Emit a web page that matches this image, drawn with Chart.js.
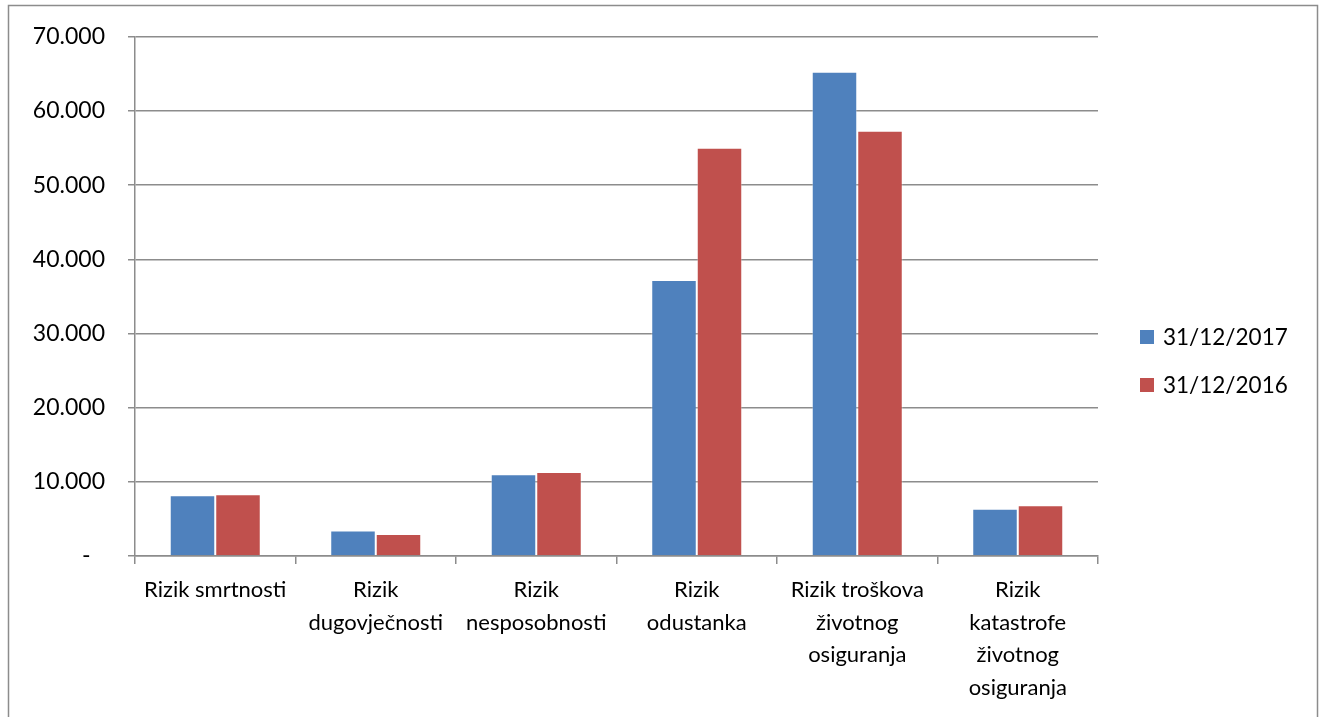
<!DOCTYPE html>
<html>
<head>
<meta charset="utf-8">
<script src="https://cdn.jsdelivr.net/npm/chart.js@4.4.1/dist/chart.umd.min.js"></script>
<style>
  html, body { margin: 0; padding: 0; background: #fff; }
  #wrap { position: absolute; left: 0; top: 0; width: 1324px; height: 717px; }
</style>
</head>
<body>
<div id="wrap"><canvas id="c" width="1324" height="717"></canvas></div>
<script>
// Risk categories (multi-line axis labels)
const categories = [
  ['Rizik smrtnosti'],
  ['Rizik', 'dugovječnosti'],
  ['Rizik', 'nesposobnosti'],
  ['Rizik', 'odustanka'],
  ['Rizik troškova', 'životnog', 'osiguranja'],
  ['Rizik', 'katastrofe', 'životnog', 'osiguranja']
];
const seriesNames = ['31/12/2017', '31/12/2016'];
const values2017 = [8200, 3450, 11020, 37220, 65280, 6370];
const values2016 = [8330, 2960, 11340, 55030, 57350, 6850];
const yTicks = [0, 10000, 20000, 30000, 40000, 50000, 60000, 70000];

const FONT = 'Lato, "Open Sans", sans-serif';
const blue = '#4F81BD';
const red = '#C0504D';
const gridColor = '#8c8c8c';

function fmt(v) {
  if (v === 0) return '-\u2002\u2009';
  return v.toLocaleString('de-DE');
}

// Outer frame around the chart
const framePlugin = {
  id: 'frame',
  beforeDraw(chart) {
    const ctx = chart.ctx;
    ctx.save();
    ctx.fillStyle = '#fff';
    ctx.fillRect(0, 0, chart.width, chart.height);
    ctx.strokeStyle = '#8c8c8c';
    ctx.lineWidth = 1.5;
    ctx.strokeRect(8.5, 5.5, 1309, 800);
    ctx.restore();
  }
};

// Legend on the right, drawn from the dataset labels and colours
const sideLegend = {
  id: 'sideLegend',
  afterDraw(chart) {
    const ctx = chart.ctx;
    ctx.save();
    ctx.font = '22.5px ' + FONT;
    ctx.textBaseline = 'middle';
    const x = 1140, y0 = 337, step = 48;
    chart.data.datasets.forEach((ds, i) => {
      const y = y0 + i * step;
      ctx.fillStyle = ds.backgroundColor;
      ctx.fillRect(x, y - 7, 14, 14);
      ctx.fillStyle = '#000';
      ctx.fillText(ds.label, x + 23, y + 1);
    });
    ctx.restore();
  }
};

new Chart(document.getElementById('c'), {
  type: 'bar',
  data: {
    labels: categories,
    datasets: [
      { label: seriesNames[0], data: values2017, backgroundColor: blue,
        borderColor: 'rgba(255,255,255,0.35)', borderWidth: 1 },
      { label: seriesNames[1], data: values2016, backgroundColor: red,
        borderColor: 'rgba(255,255,255,0.35)', borderWidth: 1 }
    ]
  },
  options: {
    responsive: false,
    animation: false,
    devicePixelRatio: 1,
    layout: { padding: { left: 0, top: 33, right: 226, bottom: 0 } },
    datasets: { bar: { categoryPercentage: 0.567, barPercentage: 1.0 } },
    plugins: {
      legend: { display: false },
      tooltip: { enabled: false },
      title: { display: false }
    },
    scales: {
      x: {
        afterFit(s) { s.height = 161; },
        border: { display: true, color: gridColor, width: 1.5 },
        grid: {
          offset: true,
          drawOnChartArea: false,
          drawTicks: true,
          tickLength: 8,
          color: gridColor,
          lineWidth: 1.5
        },
        ticks: {
          autoSkip: false,
          maxRotation: 0,
          minRotation: 0,
          padding: 10,
          color: '#000',
          font: { family: FONT, size: 22, lineHeight: 1.48 }
        }
      },
      y: {
        min: 0,
        max: 70000,
        afterFit(s) { s.width = 135; },
        afterBuildTicks(s) { s.ticks = yTicks.map(v => ({ value: v })); },
        border: { display: true, color: gridColor, width: 1.5 },
        grid: {
          color: gridColor,
          lineWidth: 1.5,
          drawTicks: true,
          tickLength: 7
        },
        ticks: {
          padding: 23,
          color: '#000',
          font: { family: FONT, size: 23 },
          callback: (v) => fmt(v)
        }
      }
    }
  },
  plugins: [framePlugin, sideLegend]
});
</script>
</body>
</html>
